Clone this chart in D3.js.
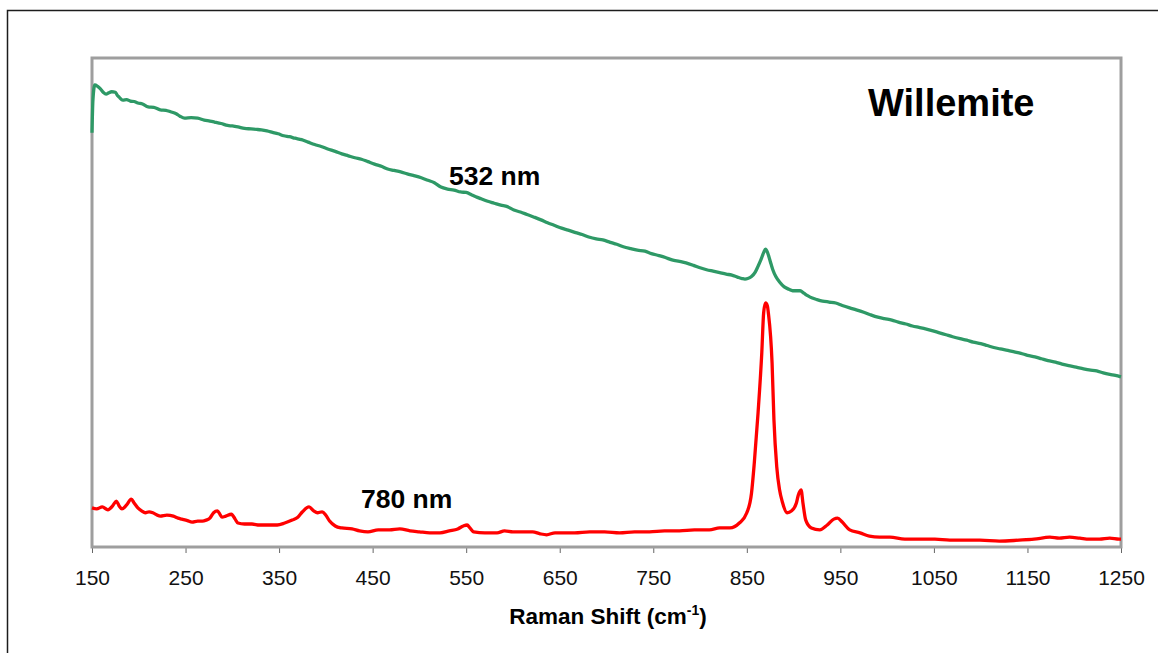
<!DOCTYPE html>
<html>
<head>
<meta charset="utf-8">
<title>Willemite Raman spectra</title>
<script src="https://cdn.jsdelivr.net/npm/d3@7"></script>
<style>
  html, body { margin: 0; padding: 0; background: #fff; }
  svg { display: block; }
  text { font-family: Arial, "Liberation Sans", Helvetica, sans-serif; }
</style>
</head>
<body>
<svg id="chart" width="1158" height="653"></svg>
<script>
// Raman shift (cm-1) and relative intensity for the two excitation lasers
const spectrum532 = [
  [150, 84.7], [151, 91.4], [153, 94.5], [156, 94.2], [159, 93.7], [162, 93.0], [165, 92.6],
  [168, 92.9], [171, 93.1], [175, 93.0], [177, 92.4], [179, 92.0], [183, 91.4], [187, 91.5],
  [191, 91.2], [195, 91.1], [199, 90.8], [204, 90.6], [210, 90.0], [216, 89.9], [223, 89.4],
  [229, 89.3], [234, 89.0], [240, 88.6], [244, 88.1], [249, 87.7], [256, 87.8], [263, 87.7],
  [270, 87.3], [276, 87.1], [281, 86.9], [288, 86.6], [295, 86.2], [300, 86.1], [306, 85.9],
  [313, 85.6], [320, 85.5], [326, 85.4], [331, 85.3], [337, 85.1], [343, 84.8], [349, 84.5],
  [355, 84.1], [361, 83.9], [367, 83.6], [374, 83.3], [381, 82.8], [388, 82.3], [395, 81.9],
  [402, 81.4], [410, 80.9], [417, 80.4], [424, 80.0], [431, 79.6], [438, 79.3], [445, 78.8],
  [452, 78.3], [460, 77.8], [466, 77.3], [473, 77.0], [480, 76.7], [487, 76.3], [495, 75.9],
  [502, 75.5], [509, 75.0], [516, 74.5], [523, 73.6], [530, 73.2], [537, 73.0], [544, 72.6],
  [550, 72.5], [556, 72.0], [562, 71.5], [566, 71.2], [573, 70.7], [580, 70.3], [587, 69.9],
  [594, 69.6], [601, 68.9], [608, 68.5], [615, 68.0], [622, 67.5], [630, 66.9], [637, 66.3],
  [644, 65.8], [652, 65.2], [659, 64.8], [667, 64.3], [674, 63.9], [681, 63.4], [689, 63.0],
  [696, 62.8], [704, 62.3], [711, 61.9], [718, 61.4], [726, 61.0], [733, 60.7], [741, 60.5],
  [748, 60.0], [756, 59.6], [763, 59.2], [770, 58.7], [778, 58.4], [785, 58.1], [793, 57.6],
  [800, 57.1], [807, 56.7], [814, 56.4], [821, 56.1], [828, 55.8], [834, 55.6], [840, 55.2],
  [845, 54.9], [848, 54.8], [851, 54.9], [855, 55.3], [859, 56.2], [862, 57.4], [865, 58.7],
  [868, 60.2], [870, 60.9], [872, 60.3], [874, 59.1], [876, 57.8], [878, 56.6], [881, 55.3],
  [885, 54.2], [890, 53.2], [895, 52.7], [899, 52.4], [903, 52.4], [907, 52.4], [911, 51.9],
  [915, 51.4], [920, 50.9], [925, 50.6], [931, 50.3], [938, 50.1], [945, 49.9], [952, 49.4],
  [960, 48.9], [967, 48.5], [975, 48.0], [982, 47.5], [990, 47.0], [997, 46.7], [1005, 46.4],
  [1012, 46.0], [1020, 45.6], [1027, 45.2], [1034, 44.9], [1041, 44.6], [1049, 44.2],
  [1056, 43.8], [1063, 43.4], [1070, 43.0], [1078, 42.6], [1085, 42.3], [1092, 41.9],
  [1100, 41.6], [1107, 41.2], [1114, 40.8], [1121, 40.5], [1129, 40.2], [1136, 39.9],
  [1143, 39.6], [1150, 39.2], [1158, 38.9], [1165, 38.5], [1172, 38.1], [1180, 37.8],
  [1187, 37.4], [1194, 37.1], [1202, 36.8], [1209, 36.5], [1216, 36.2], [1224, 36.0],
  [1231, 35.6], [1238, 35.3], [1244, 35.1], [1250, 34.8]
];

const spectrum780 = [
  [150, 8.0], [155, 7.8], [161, 8.2], [167, 7.6], [172, 8.4], [176, 9.4], [179, 8.4],
  [182, 7.8], [187, 8.6], [192, 9.8], [195, 9.0], [199, 8.0], [203, 7.4], [207, 7.0],
  [211, 7.2], [215, 7.0], [219, 6.6], [223, 6.3], [230, 6.5], [237, 6.3], [242, 5.9],
  [246, 5.7], [252, 5.4], [257, 5.1], [263, 5.3], [268, 5.3], [272, 5.5], [276, 5.9],
  [280, 7.0], [284, 7.4], [287, 6.6], [289, 6.1], [293, 6.3], [299, 6.7], [303, 5.7],
  [306, 4.9], [313, 4.7], [321, 4.7], [329, 4.5], [338, 4.5], [348, 4.5], [356, 4.9],
  [364, 5.5], [370, 6.1], [375, 7.2], [382, 8.2], [387, 7.4], [391, 7.0], [396, 7.2],
  [400, 6.5], [404, 5.3], [410, 4.3], [417, 3.9], [428, 3.7], [436, 3.3], [445, 3.1],
  [456, 3.5], [468, 3.5], [479, 3.7], [490, 3.3], [500, 3.1], [511, 2.9], [522, 2.9],
  [532, 3.3], [541, 3.7], [547, 4.3], [551, 4.5], [554, 3.9], [558, 3.1], [570, 2.9],
  [583, 2.9], [591, 3.3], [600, 3.1], [610, 3.1], [621, 3.1], [629, 2.7], [636, 2.5],
  [645, 2.9], [653, 2.9], [666, 2.9], [682, 3.1], [698, 3.1], [714, 2.9], [730, 3.1],
  [746, 3.1], [762, 3.3], [778, 3.3], [794, 3.5], [810, 3.5], [821, 3.9], [832, 3.9],
  [842, 4.9], [850, 7.0], [855, 11.0], [858, 17.2], [862, 27.4], [866, 39.7], [868, 47.9],
  [870, 49.9], [872, 49.3], [873, 47.9], [877, 37.6], [879, 26.0], [882, 16.4], [885, 11.7],
  [888, 9.2], [893, 7.0], [898, 7.4], [903, 9.0], [905, 10.6], [908, 11.7], [910, 9.0],
  [913, 5.5], [919, 3.9], [928, 3.5], [936, 4.5], [943, 5.7], [947, 5.9], [952, 5.1],
  [960, 3.5], [971, 2.9], [981, 2.2], [992, 2.0], [1003, 2.0], [1019, 1.6], [1035, 1.6],
  [1051, 1.6], [1067, 1.4], [1083, 1.4], [1099, 1.4], [1120, 1.2], [1141, 1.4], [1157, 1.6],
  [1174, 2.0], [1184, 1.8], [1195, 2.0], [1206, 1.8], [1216, 1.6], [1227, 1.6], [1238, 1.8],
  [1248, 1.6], [1250, 1.6]
];

const tickLabels = [150, 250, 350, 450, 550, 650, 750, 850, 950, 1050, 1150, 1250];
const seriesLabels = ["532 nm", "780 nm"];
const chartTitle = "Willemite";

const svg = d3.select("#chart");
const plot = { left: 92, right: 1121, top: 58, bottom: 547 };

const x = d3.scaleLinear().domain([150, 1250]).range([plot.left, plot.right]);
const y = d3.scaleLinear().domain([0, 100]).range([plot.bottom, plot.top]);

// outer frame of the figure
svg.append("path")
  .attr("d", "M7.5,653 V10.5 H1158")
  .attr("fill", "none")
  .attr("stroke", "#1c1c1c")
  .attr("stroke-width", 1.5);

// x axis
const axis = svg.append("g")
  .attr("transform", `translate(0,${plot.bottom})`)
  .call(d3.axisBottom(x).tickValues(tickLabels).tickSize(6).tickSizeOuter(0).tickFormat(d3.format("d")));
axis.select(".domain").remove();
axis.selectAll(".tick line").attr("stroke", "#666").attr("stroke-width", 1);
axis.selectAll(".tick text")
  .attr("y", 38).attr("dy", null)
  .attr("fill", "#111")
  .style("font-size", "21px")
  .style("font-family", "Arial, 'Liberation Sans', sans-serif");

// plot area frame
svg.append("rect")
  .attr("x", plot.left).attr("y", plot.top)
  .attr("width", plot.right - plot.left).attr("height", plot.bottom - plot.top)
  .attr("fill", "none")
  .attr("stroke", "#9e9e9e")
  .attr("stroke-width", 3);

const line = d3.line()
  .x(d => x(d[0]))
  .y(d => y(d[1]))
  .curve(d3.curveMonotoneX);

svg.append("path")
  .datum(spectrum532)
  .attr("d", line)
  .attr("fill", "none")
  .attr("stroke", "#2e9966")
  .attr("stroke-width", 3.3)
  .attr("stroke-linejoin", "round");

svg.append("path")
  .datum(spectrum780)
  .attr("d", line)
  .attr("fill", "none")
  .attr("stroke", "#ff0000")
  .attr("stroke-width", 3.3)
  .attr("stroke-linejoin", "round");

// labels
svg.append("text")
  .attr("x", 868).attr("y", 116)
  .style("font-size", "38px").style("font-weight", "bold")
  .attr("fill", "#000")
  .text(chartTitle);

svg.append("text")
  .attr("x", 449).attr("y", 185)
  .style("font-size", "26.5px").style("font-weight", "bold")
  .attr("fill", "#000")
  .text(seriesLabels[0]);

svg.append("text")
  .attr("x", 361).attr("y", 508)
  .style("font-size", "26.5px").style("font-weight", "bold")
  .attr("fill", "#000")
  .text(seriesLabels[1]);

// axis title with superscript
const title = svg.append("text")
  .attr("x", 608).attr("y", 624)
  .attr("text-anchor", "middle")
  .style("font-size", "22.5px").style("font-weight", "bold")
  .attr("fill", "#000");
title.append("tspan").text("Raman Shift (cm");
title.append("tspan").attr("dy", -9).style("font-size", "14px").text("-1");
title.append("tspan").attr("dy", 9).text(")");
</script>
</body>
</html>
